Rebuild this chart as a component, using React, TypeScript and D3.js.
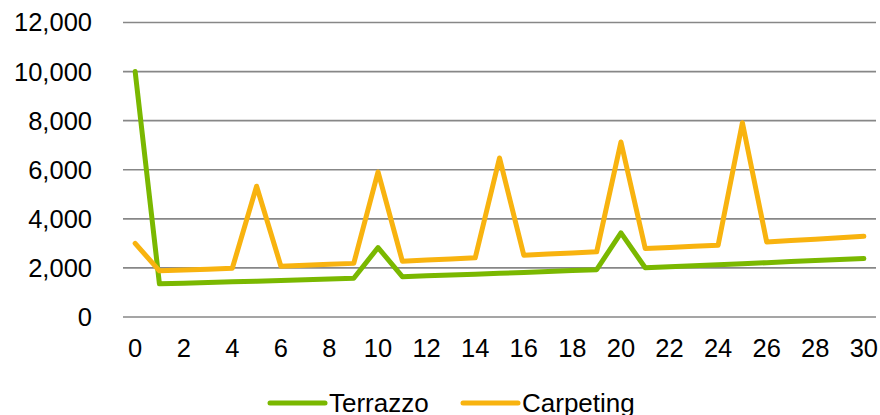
import React from "react";
import * as d3 from "d3";

const years = d3.range(0, 31);
const terrazzo = [10000, 1350, 1377, 1405, 1433, 1461, 1491, 1520, 1551, 1580, 2830, 1645, 1678, 1712, 1746, 1781, 1816, 1853, 1890, 1930, 3430, 2005, 2045, 2086, 2128, 2170, 2214, 2258, 2303, 2345, 2380];
const carpeting = [3000, 1880, 1915, 1950, 1985, 5330, 2070, 2105, 2145, 2185, 5910, 2275, 2320, 2365, 2410, 6480, 2520, 2565, 2610, 2655, 7130, 2790, 2835, 2880, 2925, 7915, 3060, 3115, 3170, 3230, 3290];
const yTicks = [0, 2000, 4000, 6000, 8000, 10000, 12000];
const xTicks = [0, 2, 4, 6, 8, 10, 12, 14, 16, 18, 20, 22, 24, 26, 28, 30];
const seriesNames = ["Terrazzo", "Carpeting"];
const seriesColors = ["#7AB800", "#F8B30F"];

export default function App() {
  const W = 880, H = 415;
  const left = 123, right = 876, top = 22.5, bottom = 317;
  const band = d3.scaleBand<number>().domain(years).range([left, right]);
  const x = (v: number) => (band(v) as number) + band.bandwidth() / 2;
  const y = d3.scaleLinear().domain([0, 12000]).range([bottom, top]);
  const line = d3.line<number>().x((_, i) => x(years[i])).y((d) => y(d)).curve(d3.curveLinear);
  const fmt = d3.format(",");
  const font = "'Liberation Sans', Arial, sans-serif";
  const series = [terrazzo, carpeting];
  const legendX = [270, 463];
  return (
    <svg width={W} height={H} style={{ position: "absolute", left: 0, top: 0, background: "#fff" }}>
      {yTicks.map((t) => (
        <g key={t}>
          <line x1={left} x2={right} y1={y(t)} y2={y(t)} stroke="#878787" strokeWidth={1.6} />
          <text x={92} y={y(t)} dy="0.35em" textAnchor="end" fontFamily={font} fontSize={25.5} fill="#000">
            {fmt(t)}
          </text>
        </g>
      ))}
      {xTicks.map((t) => (
        <text key={t} x={x(t)} y={357} textAnchor="middle" fontFamily={font} fontSize={25.5} fill="#000">
          {t}
        </text>
      ))}
      {series.map((s, i) => (
        <path key={i} d={line(s) || ""} fill="none" stroke={seriesColors[i]} strokeWidth={5} strokeLinejoin="round" strokeLinecap="round" />
      ))}
      {seriesNames.map((n, i) => (
        <g key={n}>
          <line x1={legendX[i]} x2={legendX[i] + 55} y1={403} y2={403} stroke={seriesColors[i]} strokeWidth={5} strokeLinecap="round" />
          <text x={legendX[i] + 59} y={411.5} fontFamily={font} fontSize={26} fill="#000">
            {n}
          </text>
        </g>
      ))}
    </svg>
  );
}
